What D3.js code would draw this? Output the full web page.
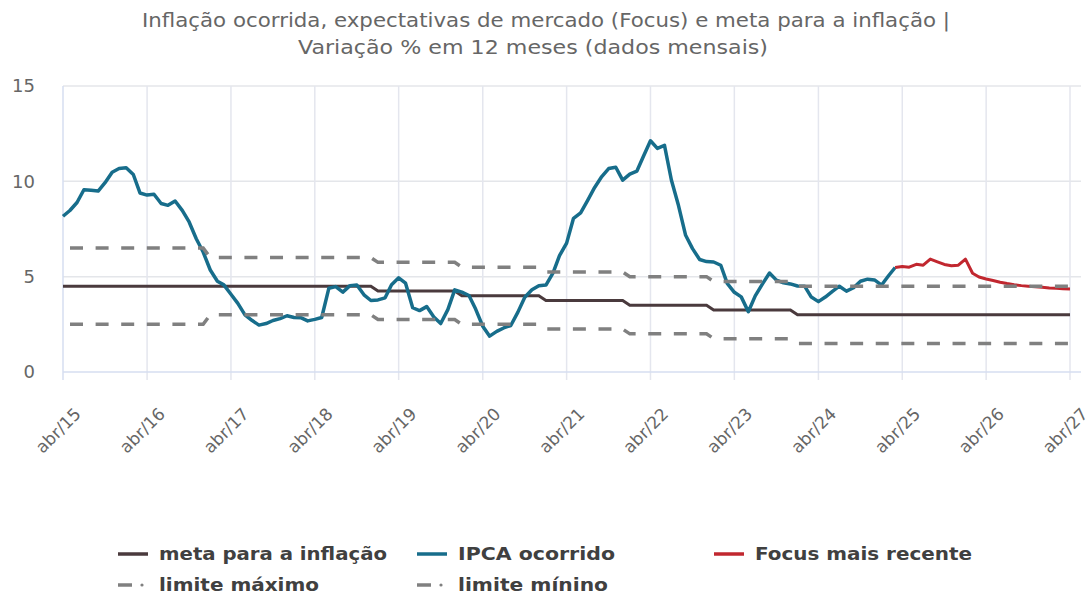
<!DOCTYPE html>
<html lang="pt">
    <head>
        <meta charset="utf-8">
        <title>Inflação ocorrida, Focus e meta</title>
        <script src="https://d3js.org/d3.v7.min.js"></script>
        <style>
            body { margin: 0; background: #fff; }
            text { font-family: "DejaVu Sans", Verdana, sans-serif; }
            .titulo { fill: #666; font-size: 19px; }
            .eixo text { fill: #666; font-size: 18px; }
            .legenda text { fill: #404040; font-size: 17.5px; font-weight: bold; }
        </style>
    </head>
    <body>
        <svg id="chart" width="1087" height="596"></svg>
    </body>
    <script>
        // IPCA acumulado 12 meses, abr/2015 a mar/2025
        let ipca2015 = [8.17, 8.47, 8.89, 9.56, 9.53, 9.49, 9.93, 10.48, 10.67];
        let ipca2016 = [10.71, 10.36, 9.39, 9.28, 9.32, 8.84, 8.74, 8.97, 8.48, 7.87, 6.99, 6.29];
        let ipca2017 = [5.35, 4.76, 4.57, 4.08, 3.60, 3.00, 2.71, 2.46, 2.54, 2.70, 2.80, 2.95];
        let ipca2018 = [2.86, 2.84, 2.68, 2.76, 2.86, 4.39, 4.48, 4.19, 4.53, 4.56, 4.05, 3.75];
        let ipca2019 = [3.78, 3.89, 4.58, 4.94, 4.66, 3.37, 3.22, 3.43, 2.89, 2.54, 3.27, 4.31];
        let ipca2020 = [4.19, 4.01, 3.30, 2.40, 1.88, 2.13, 2.31, 2.44, 3.14, 3.92, 4.31, 4.52];
        let ipca2021 = [4.56, 5.20, 6.10, 6.76, 8.06, 8.35, 8.99, 9.68, 10.25, 10.67, 10.74, 10.06];
        let ipca2022 = [10.38, 10.54, 11.30, 12.13, 11.73, 11.89, 10.07, 8.73, 7.17, 6.47, 5.90, 5.79];
        let ipca2023 = [5.77, 5.60, 4.65, 4.18, 3.94, 3.16, 3.99, 4.61, 5.19, 4.82, 4.68, 4.62];
        let ipca2024 = [4.51, 4.50, 3.93, 3.69, 3.93, 4.23, 4.50, 4.24, 4.42, 4.76, 4.87, 4.83];
        let ipca2025 = [4.56, 5.06, 5.48];

        // Focus mais recente, mar/2025 a abr/2027
        let focus = [5.48, 5.53, 5.50, 5.65, 5.60, 5.92, 5.78, 5.64, 5.57, 5.60, 5.92, 5.18,
                     4.98, 4.88, 4.80, 4.71, 4.64, 4.58, 4.53, 4.50, 4.47, 4.44, 4.41, 4.39,
                     4.37, 4.35];

        // meta e intervalo de tolerância por ano-calendário
        let anos = [2015, 2016, 2017, 2018, 2019, 2020, 2021, 2022, 2023, 2024, 2025, 2026, 2027];
        let metaAnual = [4.5, 4.5, 4.5, 4.5, 4.25, 4.0, 3.75, 3.5, 3.25, 3.0, 3.0, 3.0, 3.0];
        let limiteMaxAnual = [6.5, 6.5, 6.0, 6.0, 5.75, 5.5, 5.25, 5.0, 4.75, 4.5, 4.5, 4.5, 4.5];
        let limiteMinAnual = [2.5, 2.5, 3.0, 3.0, 2.75, 2.5, 2.25, 2.0, 1.75, 1.5, 1.5, 1.5, 1.5];

        let yTicks = [0, 5, 10, 15];

        let svg = d3.select("#chart");

        let inicio = new Date(2015, 3, 1);
        let fim = new Date(2027, 3, 1);
        let meses = d3.timeMonth.range(inicio, d3.timeMonth.offset(fim, 1));

        let x = d3.scaleTime().domain([inicio, fim]).range([63, 1070]);
        let y = d3.scaleLinear().domain([0, 15]).range([372, 86]);

        let ipca = [].concat(ipca2015, ipca2016, ipca2017, ipca2018, ipca2019,
                             ipca2020, ipca2021, ipca2022, ipca2023, ipca2024, ipca2025);
        let serieIpca = ipca.map((v, i) => ({ data: meses[i], valor: v }));
        let serieFocus = focus.map((v, i) => ({ data: meses[ipca.length - 1 + i], valor: v }));

        function porAno(valores) {
            return meses.map(m => ({ data: m, valor: valores[anos.indexOf(m.getFullYear())] }));
        }
        let serieMeta = porAno(metaAnual);
        let serieMax = porAno(limiteMaxAnual);
        let serieMin = porAno(limiteMinAnual);

        let abris = meses.filter(m => m.getMonth() == 3);
        let nomeMes = d3.timeFormat("%y");

        // titulo (a imagem original é um pouco esticada na horizontal)
        svg.append("text").attr("class", "titulo")
            .attr("x", 546).attr("y", 27).attr("text-anchor", "middle")
            .attr("textLength", 808).attr("lengthAdjust", "spacingAndGlyphs")
            .text("Inflação ocorrida, expectativas de mercado (Focus) e meta para a inflação |");
        svg.append("text").attr("class", "titulo")
            .attr("x", 533).attr("y", 54).attr("text-anchor", "middle")
            .attr("textLength", 470).attr("lengthAdjust", "spacingAndGlyphs")
            .text("Variação % em 12 meses (dados mensais)");

        // grade
        let grade = svg.append("g");
        grade.selectAll("line.h")
            .data(yTicks.filter(t => t > 0))
            .enter()
            .append("line")
            .attr("x1", x(inicio)).attr("x2", 1081)
            .attr("y1", d => y(d)).attr("y2", d => y(d))
            .attr("stroke", "#e4e6ea").attr("stroke-width", 1.5);
        grade.selectAll("line.v")
            .data(abris)
            .enter()
            .append("line")
            .attr("x1", d => x(d)).attr("x2", d => x(d))
            .attr("y1", y(15)).attr("y2", y(0) + 8)
            .attr("stroke", (d, i) => i == 0 ? "#d6def0" : "#e4e6ee").attr("stroke-width", 1.5);
        grade.append("line")
            .attr("x1", x(inicio)).attr("x2", 1081)
            .attr("y1", y(0)).attr("y2", y(0))
            .attr("stroke", "#d6def0").attr("stroke-width", 1.5);

        // eixos
        let eixoY = svg.append("g").attr("class", "eixo");
        eixoY.selectAll("text")
            .data(yTicks)
            .enter()
            .append("text")
            .attr("x", 35).attr("y", d => y(d)).attr("dy", "0.35em")
            .attr("text-anchor", "end")
            .text(d => d);

        let eixoX = svg.append("g").attr("class", "eixo");
        eixoX.selectAll("text")
            .data(abris)
            .enter()
            .append("text")
            .attr("transform", d => "translate(" + (x(d) + 19) + ",415) rotate(-45)")
            .attr("text-anchor", "end")
            .style("font-size", "17px")
            .text(d => "abr/" + nomeMes(d));

        // linhas
        let linha = d3.line().x(d => x(d.data)).y(d => y(d.valor));

        svg.append("path").datum(serieMeta)
            .attr("d", linha).attr("fill", "none")
            .attr("stroke", "#4a3a3d").attr("stroke-width", 3);

        svg.append("path").datum(serieIpca)
            .attr("d", linha).attr("fill", "none")
            .attr("stroke", "#176d8b").attr("stroke-width", 3.5)
            .attr("stroke-linejoin", "round");

        svg.append("path").datum(serieFocus)
            .attr("d", linha).attr("fill", "none")
            .attr("stroke", "#c1272f").attr("stroke-width", 3)
            .attr("stroke-linejoin", "round");

        [serieMax, serieMin].forEach(s => {
            svg.append("path").datum(s)
                .attr("d", linha).attr("fill", "none")
                .attr("stroke", "#808080").attr("stroke-width", 3.5)
                .attr("stroke-dasharray", "13,12.6")
                .attr("stroke-dashoffset", 18.6);
        });

        // legenda
        let itens = [
            { nome: "meta para a inflação", cor: "#4a3a3d", x: 118, y: 554, w: 228, tipo: "linha" },
            { nome: "IPCA ocorrido", cor: "#176d8b", x: 417, y: 554, w: 157, tipo: "linha" },
            { nome: "Focus mais recente", cor: "#c1272f", x: 714, y: 554, w: 217, tipo: "linha" },
            { nome: "limite máximo", cor: "#808080", x: 118, y: 585, w: 160, tipo: "traco" },
            { nome: "limite mínino", cor: "#808080", x: 417, y: 585, w: 150, tipo: "traco" }
        ];
        let legenda = svg.append("g").attr("class", "legenda")
            .selectAll("g")
            .data(itens)
            .enter()
            .append("g")
            .attr("transform", d => "translate(" + d.x + "," + d.y + ")");
        legenda.filter(d => d.tipo == "linha").append("line")
            .attr("x1", 0).attr("x2", 30).attr("y1", 0).attr("y2", 0)
            .attr("stroke", d => d.cor).attr("stroke-width", 3.5);
        legenda.filter(d => d.tipo == "traco").append("line")
            .attr("x1", 0).attr("x2", 14).attr("y1", 0).attr("y2", 0)
            .attr("stroke", d => d.cor).attr("stroke-width", 3.5);
        legenda.filter(d => d.tipo == "traco").append("circle")
            .attr("cx", 24).attr("cy", 0).attr("r", 1.6)
            .attr("fill", d => d.cor);
        legenda.append("text")
            .attr("x", 41).attr("y", 0).attr("dy", "0.36em")
            .attr("textLength", d => d.w).attr("lengthAdjust", "spacingAndGlyphs")
            .text(d => d.nome);
    </script>
</html>
